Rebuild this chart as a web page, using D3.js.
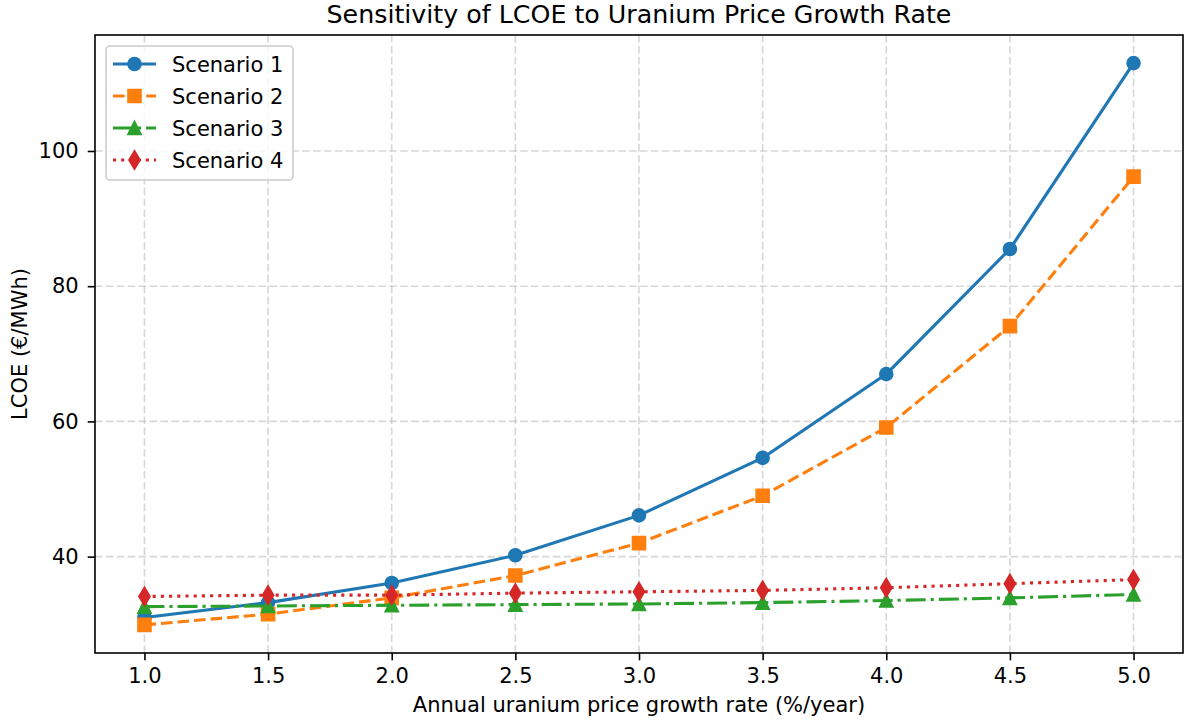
<!DOCTYPE html>
<html><head><meta charset="utf-8">
<script src="https://cdn.jsdelivr.net/npm/d3@7"></script>
<style>body{margin:0;background:#fff}svg{display:block}text{font-family:"DejaVu Sans",sans-serif;fill:#000}</style>
</head><body>
<svg id="chart" width="1186" height="722"></svg>
<script>
const growthRates = [1.0, 1.5, 2.0, 2.5, 3.0, 3.5, 4.0, 4.5, 5.0];
const scenario1 = [31.0, 33.2, 36.1, 40.2, 46.1, 54.6, 67.0, 85.5, 113.0];
const scenario2 = [29.9, 31.5, 33.9, 37.2, 42.0, 49.0, 59.1, 74.1, 96.2];
const scenario3 = [32.6, 32.7, 32.8, 32.9, 33.0, 33.2, 33.5, 33.9, 34.4];
const scenario4 = [34.1, 34.3, 34.3, 34.6, 34.8, 35.0, 35.4, 36.0, 36.6];
const seriesNames = ["Scenario 1", "Scenario 2", "Scenario 3", "Scenario 4"];
const xTicks = [1.0, 1.5, 2.0, 2.5, 3.0, 3.5, 4.0, 4.5, 5.0];
const yTicks = [40, 60, 80, 100];
const titleText = "Sensitivity of LCOE to Uranium Price Growth Rate";
const xLabel = "Annual uranium price growth rate (%/year)";
const yLabel = "LCOE (€/MWh)";

const styles = [
  {color:"#1f77b4", dash:null, marker:"o"},
  {color:"#ff7f0e", dash:"11.6,5",  marker:"s"},
  {color:"#2ca02c", dash:"20,5,3.1,5", marker:"^"},
  {color:"#d62728", dash:"3.1,5.1", marker:"d"}
];
const allSeries = [scenario1, scenario2, scenario3, scenario4];

const svg = d3.select("#chart");
const L = 95, R = 1183, T = 35, B = 653;
const FS = 21;

const allVals = allSeries.flat();
const ymin = d3.min(allVals), ymax = d3.max(allVals);
const ypad = (ymax - ymin) * 0.05;
const xmin = d3.min(growthRates), xmax = d3.max(growthRates);
const xpad = (xmax - xmin) * 0.05;

const x = d3.scaleLinear().domain([xmin - xpad, xmax + xpad]).range([L, R]);
const y = d3.scaleLinear().domain([ymin - ypad, ymax + ypad]).range([B, T]);

// grid
const grid = svg.append("g");
xTicks.forEach(t => grid.append("line").attr("x1", x(t)).attr("x2", x(t)).attr("y1", T).attr("y2", B)
  .attr("stroke", "#b0b0b0").attr("stroke-opacity", 0.5).attr("stroke-width", 1.6).attr("stroke-dasharray", "7.6,3.3"));
yTicks.forEach(t => grid.append("line").attr("x1", L).attr("x2", R).attr("y1", y(t)).attr("y2", y(t))
  .attr("stroke", "#b0b0b0").attr("stroke-opacity", 0.5).attr("stroke-width", 1.6).attr("stroke-dasharray", "7.6,3.3"));

// axes
const xAxis = d3.axisBottom(x).tickValues(xTicks).tickFormat(d3.format(".1f")).tickSizeInner(7.3).tickSizeOuter(0).tickPadding(8);
const yAxis = d3.axisLeft(y).tickValues(yTicks).tickFormat(d3.format("d")).tickSizeInner(7.3).tickSizeOuter(0).tickPadding(9);
const gx = svg.append("g").attr("transform", `translate(0,${B})`).call(xAxis);
const gy = svg.append("g").attr("transform", `translate(${L},0)`).call(yAxis);
[gx, gy].forEach(g => {
  g.select(".domain").remove();
  g.selectAll(".tick line").attr("stroke", "#000").attr("stroke-width", 1.6);
  g.selectAll(".tick text").attr("font-size", FS).attr("font-family", "DejaVu Sans").attr("fill", "#000");
});

function markerPath(type) {
  const s = 12.6;
  if (type === "o") return d3.symbol().type(d3.symbolCircle).size(Math.PI * (s/2) * (s/2))();
  if (type === "s") return `M${-s/2},${-s/2}H${s/2}V${s/2}H${-s/2}Z`;
  if (type === "^") return `M0,${-s/2}L${s/2},${s/2}L${-s/2},${s/2}Z`;
  if (type === "d") { const h = s * Math.SQRT2 / 2, w = h * 0.6; return `M0,${-h}L${w},0L0,${h}L${-w},0Z`; }
}

const plot = svg.append("g");
allSeries.forEach((vals, i) => {
  const st = styles[i];
  const data = growthRates.map((g, j) => [g, vals[j]]);
  const line = d3.line().x(d => x(d[0])).y(d => y(d[1]));
  const p = plot.append("path").datum(data).attr("d", line).attr("fill", "none")
    .attr("stroke", st.color).attr("stroke-width", 3.1).attr("stroke-linejoin", "round");
  if (st.dash) p.attr("stroke-dasharray", st.dash).attr("stroke-linecap", "butt");
  else p.attr("stroke-linecap", "square");
  plot.selectAll(null).data(data).enter().append("path")
    .attr("d", markerPath(st.marker))
    .attr("transform", d => `translate(${x(d[0])},${y(d[1])})`)
    .attr("fill", st.color).attr("stroke", st.color).attr("stroke-width", 2).attr("stroke-linejoin", "miter");
});

// spines
svg.append("rect").attr("x", L).attr("y", T).attr("width", R - L).attr("height", B - T)
  .attr("fill", "none").attr("stroke", "#000").attr("stroke-width", 1.6);

// legend
const lg = svg.append("g");
lg.append("rect").attr("x", 106).attr("y", 46).attr("width", 187).attr("height", 134).attr("rx", 4)
  .attr("fill", "#fff").attr("fill-opacity", 0.8).attr("stroke", "#cccccc").attr("stroke-width", 1.6);
seriesNames.forEach((name, i) => {
  const st = styles[i];
  const cy = 64 + i * 32;
  const ln = lg.append("line").attr("x1", 113).attr("x2", 156).attr("y1", cy).attr("y2", cy)
    .attr("stroke", st.color).attr("stroke-width", 3.1);
  if (st.dash) ln.attr("stroke-dasharray", st.dash);
  lg.append("path").attr("d", markerPath(st.marker)).attr("transform", `translate(134.5,${cy})`)
    .attr("fill", st.color).attr("stroke", st.color).attr("stroke-width", 2);
  lg.append("text").attr("x", 172).attr("y", cy).attr("dy", "0.36em").attr("font-size", FS).text(name);
});

// titles
svg.append("text").attr("x", (L + R) / 2).attr("y", 23).attr("text-anchor", "middle").attr("font-size", 25.3).text(titleText);
svg.append("text").attr("x", (L + R) / 2).attr("y", 712).attr("text-anchor", "middle").attr("font-size", FS).text(xLabel);
svg.append("text").attr("transform", `translate(27,${(T + B) / 2}) rotate(-90)`).attr("text-anchor", "middle").attr("font-size", FS).text(yLabel);
</script>
</body></html>
